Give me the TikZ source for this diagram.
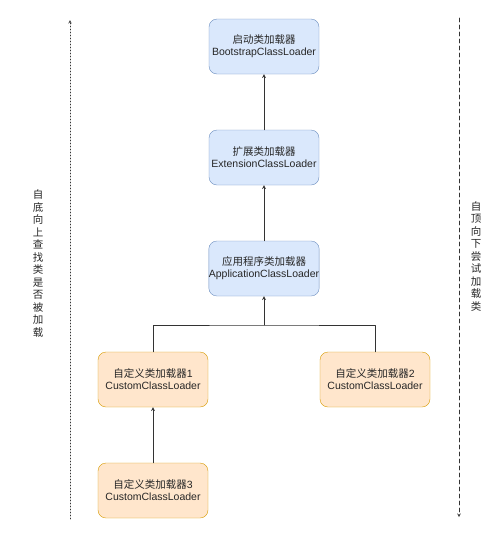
\documentclass[tikz,border=0pt]{standalone}
\usepackage{fontspec}
\setmainfont{Liberation Sans}
\newfontfamily\cjk{Noto Sans CJK SC}
\usepackage{tikz}
\usetikzlibrary{arrows}

\definecolor{bluefill}{HTML}{DAE8FC}
\definecolor{bluedraw}{HTML}{6C8EBF}
\definecolor{orangefill}{HTML}{FFE6CC}
\definecolor{orangedraw}{HTML}{D79B00}
\definecolor{linegrey}{HTML}{333333}

\tikzset{
  loader/.style={rounded corners=8pt,minimum width=110pt,minimum height=55pt,
    align=center,inner sep=0pt,font=\fontsize{10.5}{12}\selectfont,text=black!85},
  blueloader/.style={loader,draw=bluedraw,fill=bluefill},
  orangeloader/.style={loader,draw=orangedraw,fill=orangefill},
  sidetext/.style={align=center,inner sep=0pt,font=\cjk\fontsize{10.5}{12.5}\selectfont,text=black!85}
}

\begin{document}
\begin{tikzpicture}[line cap=round,line join=round,>=stealth,x=1pt,y=-1pt]
\useasboundingbox (0,0) rectangle (500,539);
\node[blueloader] (boot) at (264,46.5) {{\cjk 启动类加载器}\\BootstrapClassLoader};
\node[blueloader] (ext) at (264,157.5) {{\cjk 扩展类加载器}\\ExtensionClassLoader};
\node[blueloader] (app) at (264,268.5) {{\cjk 应用程序类加载器}\\ApplicationClassLoader};
\node[orangeloader] (cust1) at (153,379.5) {{\cjk 自定义类加载器}1\\CustomClassLoader};
\node[orangeloader] (cust2) at (375,379.5) {{\cjk 自定义类加载器}2\\CustomClassLoader};
\node[orangeloader] (cust3) at (153,490.5) {{\cjk 自定义类加载器}3\\CustomClassLoader};
\coordinate (junc) at (264,325);
\draw[->,linegrey,line width=0.7pt] (ext) -- (boot);
\draw[->,linegrey,line width=0.7pt] (app) -- (ext);
\draw[linegrey,line width=0.7pt] (cust1) |- (junc) -| (cust2);
\draw[->,linegrey,line width=0.7pt] (junc) -- (app);
\draw[->,linegrey,line width=0.7pt] (cust3) -- (cust1);
% side arrows
\coordinate (upbot) at (70,519);
\coordinate (uptop) at (70,20);
\coordinate (downtop) at (459,18);
\coordinate (downbot) at (459,517);
\draw[->,black!80,line width=0.6pt,dash pattern=on 1pt off 2pt] (upbot) -- (uptop);
\draw[->,black!80,line width=0.6pt,dash pattern=on 4pt off 3pt] (downtop) -- (downbot);
\node[sidetext] (uptext) at (38,263.5) {自\\底\\向\\上\\查\\找\\类\\是\\否\\被\\加\\载};
\node[sidetext] (downtext) at (476,256) {自\\顶\\向\\下\\尝\\试\\加\\载\\类};
\end{tikzpicture}
\end{document}
